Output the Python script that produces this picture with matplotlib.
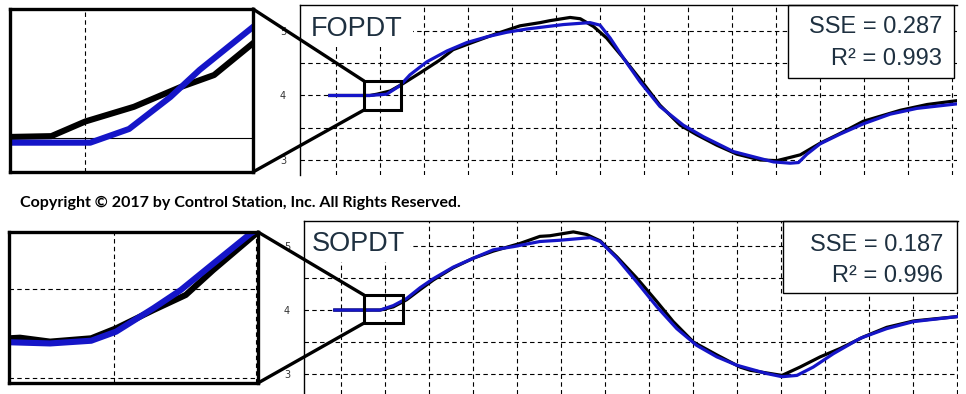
import matplotlib
matplotlib.use("Agg")
import matplotlib.pyplot as plt
from matplotlib.patches import Rectangle, ConnectionPatch

W, H = 966, 394

# ---- top panel (FOPDT) ----
fo_t_meas = [-0.14, 0.77, 0.93, 1.23, 1.49, 1.91, 2.36, 2.66, 3.05, 3.65, 4.18, 4.64, 4.86,
             5.32, 5.55, 5.85, 6.15, 6.53, 6.98, 7.36, 7.82, 8.2, 8.65, 9.11, 9.64, 10.02,
             10.32, 10.55, 11.0, 11.45, 11.98, 12.82, 13.43, 14.11]
fo_y_meas = [4.0, 4.0, 4.02, 4.07, 4.17, 4.35, 4.55, 4.71, 4.81, 4.96, 5.08, 5.13, 5.16,
             5.21, 5.19, 5.07, 4.89, 4.58, 4.19, 3.85, 3.54, 3.39, 3.23, 3.09, 3.0, 2.99,
             3.04, 3.08, 3.26, 3.41, 3.6, 3.77, 3.86, 3.92]
fo_t_model = [-0.14, 0.77, 1.15, 1.45, 1.68, 2.06, 2.52, 2.97, 3.43, 3.88, 4.33, 5.17, 5.77,
              6.0, 6.23, 6.53, 6.91, 7.36, 7.89, 8.35, 9.03, 9.94, 10.32, 10.51, 10.7, 11.0,
              11.45, 11.98, 12.59, 13.2, 14.11]
fo_y_model = [4.0, 4.0, 4.02, 4.15, 4.32, 4.52, 4.69, 4.82, 4.91, 4.98, 5.03, 5.10, 5.13,
              5.09, 4.89, 4.58, 4.21, 3.83, 3.54, 3.36, 3.13, 2.97, 2.95, 2.96, 3.09, 3.25,
              3.40, 3.56, 3.71, 3.80, 3.87]
fo_stats = ["SSE = 0.287", "R\u00b2 = 0.993"]

# zoomed detail (inset units 0..1)
fo_ins_t_meas = [0.0, 0.17, 0.31, 0.51, 0.70, 0.84, 1.0]
fo_ins_y_meas = [0.215, 0.22, 0.31, 0.40, 0.52, 0.595, 0.79]
fo_ins_t_model = [0.0, 0.33, 0.49, 0.66, 0.78, 1.0]
fo_ins_y_model = [0.18, 0.18, 0.264, 0.46, 0.626, 0.89]

# ---- bottom panel (SOPDT) ----
so_t_meas = [-0.14, 0.89, 1.19, 1.49, 1.80, 2.10, 2.55, 3.01, 3.46, 4.07, 4.52, 4.75, 5.28,
             5.58, 5.89, 6.27, 6.72, 7.18, 7.55, 8.01, 8.54, 9.07, 9.30, 10.02, 10.43, 10.89,
             11.34, 11.87, 12.4, 13.01, 14.03]
so_y_meas = [4.0, 4.0, 4.05, 4.16, 4.32, 4.47, 4.66, 4.81, 4.92, 5.04, 5.15, 5.16, 5.22,
             5.18, 5.08, 4.83, 4.50, 4.13, 3.82, 3.50, 3.30, 3.11, 3.06, 2.98, 3.11, 3.27,
             3.40, 3.58, 3.73, 3.83, 3.90]
so_t_model = [-0.14, 0.89, 1.19, 1.49, 1.80, 2.10, 2.55, 3.01, 3.46, 3.92, 4.52, 4.98, 5.66,
              5.89, 6.27, 6.72, 7.18, 7.63, 8.08, 8.54, 8.99, 9.67, 10.02, 10.36, 10.73, 11.19,
              11.80, 12.40, 13.01, 14.03]
so_y_model = [4.0, 4.0, 4.07, 4.18, 4.35, 4.49, 4.67, 4.81, 4.94, 4.99, 5.07, 5.09, 5.13,
              5.07, 4.81, 4.44, 4.05, 3.71, 3.45, 3.27, 3.14, 3.01, 2.96, 2.98, 3.11, 3.32,
              3.56, 3.71, 3.82, 3.90]
so_stats = ["SSE = 0.187", "R\u00b2 = 0.996"]

so_ins_t_meas = [0.0, 0.044, 0.165, 0.33, 0.43, 0.58, 0.71, 0.82, 1.0]
so_ins_y_meas = [0.296, 0.30, 0.274, 0.296, 0.362, 0.483, 0.583, 0.748, 1.0]
so_ins_t_model = [0.0, 0.165, 0.33, 0.43, 0.58, 0.69, 0.82, 0.97, 1.0]
so_ins_y_model = [0.27, 0.262, 0.28, 0.34, 0.495, 0.616, 0.79, 0.99, 1.02]

BLUE = "#1515c8"
TXT = "#1e3040"
DASH = (0, (4, 3))


def rect(l, t, r, b):
    return [l / W, 1 - b / H, (r - l) / W, (b - t) / H]


def panel(fig, main_px, ins_px, xlim, ylim, t_m, y_m, t_f, y_f, name, stats,
          name_box, stat_box, zoom, it_m, iy_m, it_f, iy_f, ins_h, ins_v, ins_hdash):
    ax = fig.add_axes(rect(*main_px))
    ax.set_xlim(*xlim)
    ax.set_ylim(*ylim)
    ax.set_xticks(range(0, 15))
    ax.set_xticklabels([])
    ax.set_yticks([3, 4, 5])
    ax.set_yticks([3.5, 4.5], minor=True)
    ax.tick_params(which="both", length=0, labelsize=7, labelcolor="#333333", pad=10)
    ax.grid(True, which="both", color="black", lw=0.8, linestyle=DASH)
    for s in ["right", "bottom"]:
        ax.spines[s].set_visible(False)
    for s in ["left", "top"]:
        ax.spines[s].set_linewidth(1.0)
        ax.spines[s].set_zorder(10)

    ax.plot(t_m, y_m, color="black", lw=2.3, zorder=3, solid_joinstyle="round")
    ax.plot(t_f, y_f, color=BLUE, lw=2.3, zorder=4, solid_joinstyle="round")

    # white label area
    ax.add_patch(Rectangle((0, name_box[0]), name_box[1], 1 - name_box[0], transform=ax.transAxes,
                           facecolor="white", edgecolor="none", zorder=5))
    ax.text(name[1], name[2], name[0], transform=ax.transAxes, ha="left", va="baseline",
            fontsize=19.5, color=TXT, family="Liberation Sans", zorder=6)

    # stats box
    bx0, bx1, by0 = stat_box[:3]
    ax.add_patch(Rectangle((bx0, by0), bx1 - bx0, 1 - by0, transform=ax.transAxes,
                           facecolor="white", edgecolor="black", lw=1.0, zorder=5, clip_on=False))
    for txt, yy in zip(stats, stat_box[3:]):
        ax.text(0.977, yy, txt, transform=ax.transAxes, ha="right",
                va="baseline", fontsize=17, color=TXT, family="Liberation Sans", zorder=6)

    # zoom rectangle
    zx0, zx1, zy0, zy1 = zoom
    ax.add_patch(Rectangle((zx0, zy0), zx1 - zx0, zy1 - zy0, fill=False, edgecolor="black",
                           lw=2.2, zorder=8))

    # inset
    ins = fig.add_axes(rect(*ins_px))
    ins.set_xlim(0, 1)
    ins.set_ylim(0, 1)
    ins.set_xticks([])
    ins.set_yticks([])
    for s in ins.spines.values():
        s.set_linewidth(2.4)
        s.set_zorder(10)
    for hy in ins_h:
        ins.axhline(hy, color="black", lw=0.8, linestyle=DASH if ins_hdash else "-", zorder=1)
    for vx in ins_v:
        ins.axvline(vx, color="black", lw=0.8, linestyle=DASH, zorder=1)
    ins.plot(it_m, iy_m, color="black", lw=4.4, zorder=3, solid_joinstyle="round")
    ins.plot(it_f, iy_f, color=BLUE, lw=4.4, zorder=4, solid_joinstyle="round")

    # connector lines
    for ya, yb in [(1, zy1), (0, zy0)]:
        con = ConnectionPatch(xyA=(1, ya), coordsA=ins.transAxes, xyB=(zx0, yb), coordsB=ax.transData,
                              color="black", lw=2.4, zorder=20)
        fig.add_artist(con)
    return ax


fig = plt.figure(figsize=(W / 100, H / 100), dpi=100)

panel(fig, (300, 5, 957, 175), (10, 9, 253, 172), (-0.818, 14.11), (2.767, 5.403),
      fo_t_meas, fo_y_meas, fo_t_model, fo_y_model,
      ("FOPDT", 0.0167, 0.818), fo_stats, (0.753, 0.172), (0.743, 0.995, 0.571, 0.833, 0.647),
      (0.636, 1.477, 3.775, 4.225),
      fo_ins_t_meas, fo_ins_y_meas, fo_ins_t_model, fo_ins_y_model, [0.21], [0.31], False)

panel(fig, (304, 221, 958, 394), (9, 232, 258, 383), (-0.84, 14.02), (2.69, 5.39),
      so_t_meas, so_y_meas, so_t_model, so_y_model,
      ("SOPDT", 0.0122, 0.827), so_stats, (0.763, 0.162), (0.732, 0.998, 0.584, 0.828, 0.649),
      (0.523, 1.41, 3.797, 4.234),
      so_ins_t_meas, so_ins_y_meas, so_ins_t_model, so_ins_y_model, [0.033, 0.62], [0.42, 0.99], True)

fig.text(20 / W, 1 - 203 / H, "Copyright \u00a9 2017 by Control Station, Inc. All Rights Reserved.",
         ha="left", va="center", fontsize=11.5, fontweight="bold", family="Lato", color="black")

fig.savefig("out.png", dpi=100, facecolor="white")
